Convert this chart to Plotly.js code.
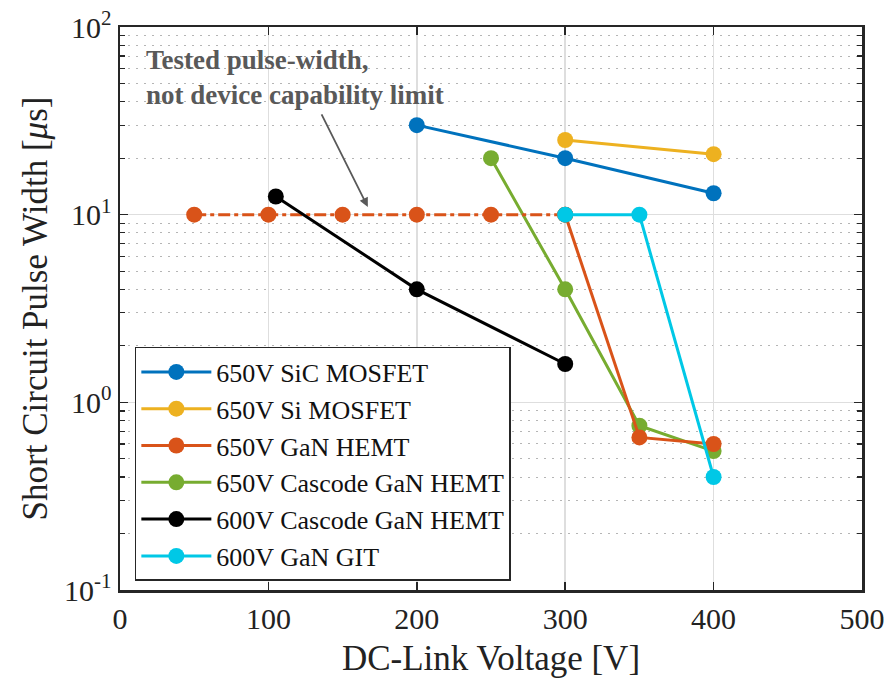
<!DOCTYPE html>
<html>
<head>
<meta charset="utf-8">
<script src="https://cdn.plot.ly/plotly-3.0.1.min.js"></script>
<style>html,body{margin:0;padding:0;background:#fff;}#chart{width:888px;height:688px;}</style>
</head>
<body>
<div id="chart"></div>
<script>
// ---- Data ----
var seriesNames = ["650V SiC MOSFET", "650V Si MOSFET", "650V GaN HEMT", "650V Cascode GaN HEMT", "600V Cascode GaN HEMT", "600V GaN GIT"];
var sicX = [200, 300, 400];
var sicY = [30, 20, 13];
var siX = [300, 400];
var siY = [25, 21];
var ganX = [50, 100, 150, 200, 250, 300, 350, 400];
var ganY = [10, 10, 10, 10, 10, 10, 0.65, 0.6];
var casc650X = [250, 300, 350, 400];
var casc650Y = [20, 4, 0.75, 0.55];
var casc600X = [105, 200, 300];
var casc600Y = [12.5, 4, 1.6];
var gitX = [300, 350, 400];
var gitY = [10, 10, 0.4];
var yTickVals = [0.1, 1, 10, 100];
var yTickText = ["10<sup>-1</sup>", "10<sup>0</sup>", "10<sup>1</sup>", "10<sup>2</sup>"];
var xTickVals = [0, 100, 200, 300, 400, 500];

var colors = ["#0072BD", "#EDB120", "#D95319", "#77AC30", "#000000", "#00C8E6"];
var FONT = "'Liberation Serif', 'Times New Roman', Times, serif";

function tr(x, y, i, opts) {
  var t = {
    x: x, y: y, type: "scatter", mode: "lines+markers", name: seriesNames[i],
    line: {color: colors[i], width: 3},
    marker: {color: colors[i], size: 16, symbol: "circle"},
    legendrank: i + 1
  };
  if (opts) for (var k in opts) t[k] = opts[k];
  return t;
}

// split GaN HEMT: tested-limit part (dash-dot) and measured part (solid)
var ganDashX = ganX.slice(0, 6), ganDashY = ganY.slice(0, 6);
var ganSolidX = ganX.slice(5), ganSolidY = ganY.slice(5);

var traces = [
  tr(sicX, sicY, 0),
  tr(siX, siY, 1),
  tr(casc650X, casc650Y, 3),
  tr(ganDashX, ganDashY, 2, {showlegend: false, line: {color: colors[2], width: 3, dash: "12px,4px,4px,4px"}}),
  tr(ganSolidX, ganSolidY, 2),
  tr(casc600X, casc600Y, 4),
  tr(gitX, gitY, 5)
];

var minorVals = [];
[0.1, 1, 10].forEach(function (d) { for (var m = 2; m <= 9; m++) minorVals.push(+(d * m).toFixed(3)); });

var layout = {
  width: 888, height: 688,
  margin: {l: 120, r: 26, t: 27, b: 98},
  paper_bgcolor: "#ffffff", plot_bgcolor: "#ffffff",
  font: {family: FONT, color: "#222222"},
  showlegend: true,
  legend: {
    x: 0.02, y: 0.016, xanchor: "left", yanchor: "bottom",
    bgcolor: "#ffffff", bordercolor: "#262626", borderwidth: 1.5,
    font: {family: FONT, size: 26, color: "#111111"},
    itemwidth: 70, tracegroupgap: 0
  },
  xaxis: {
    range: [0, 500], tickmode: "array", tickvals: xTickVals,
    ticks: "inside", ticklen: 8, tickwidth: 1.5, tickcolor: "#262626",
    showline: true, linewidth: 2.5, linecolor: "#262626", mirror: "ticks",
    showgrid: true, gridcolor: "#dedede", gridwidth: 1.5, zeroline: false,
    tickfont: {family: FONT, size: 30, color: "#222222"},
    title: {text: "DC-Link Voltage [V]", font: {family: FONT, size: 35, color: "#222222"}, standoff: 12}
  },
  yaxis: {
    type: "log", range: [-1, 2], tickmode: "array", tickvals: yTickVals, ticktext: yTickText,
    ticks: "inside", ticklen: 8, tickwidth: 1.5, tickcolor: "#262626",
    showline: true, linewidth: 2.5, linecolor: "#262626", mirror: "ticks",
    showgrid: true, gridcolor: "#dedede", gridwidth: 1.5, zeroline: false,
    tickfont: {family: FONT, size: 30, color: "#222222"},
    minor: {tickmode: "array", tickvals: minorVals, ticks: "inside", ticklen: 5, tickwidth: 1.2, tickcolor: "#262626",
            showgrid: true, gridcolor: "#b5b5b5", gridwidth: 1, griddash: "2px,6px"},
    title: {text: "Short Circuit Pulse Width [<i>μ</i>s]", font: {family: FONT, size: 35, color: "#222222"}, standoff: 6}
  },
  annotations: [
    {
      xref: "paper", yref: "paper", x: 0.032, y: 0.972, xanchor: "left", yanchor: "top", align: "left",
      showarrow: false,
      text: "<b>Tested pulse-width,<br>not device capability limit</b>",
      font: {family: FONT, size: 27, color: "#595959"}
    },
    {
      xref: "x", yref: "y", x: 167, y: Math.log10(11), ax: -47, ay: -94,
      text: "", showarrow: true, arrowhead: 2, arrowsize: 1, arrowwidth: 1.8, arrowcolor: "#595959"
    }
  ]
};

Plotly.newPlot("chart", traces, layout, {displayModeBar: false, staticPlot: true});
</script>
</body>
</html>
